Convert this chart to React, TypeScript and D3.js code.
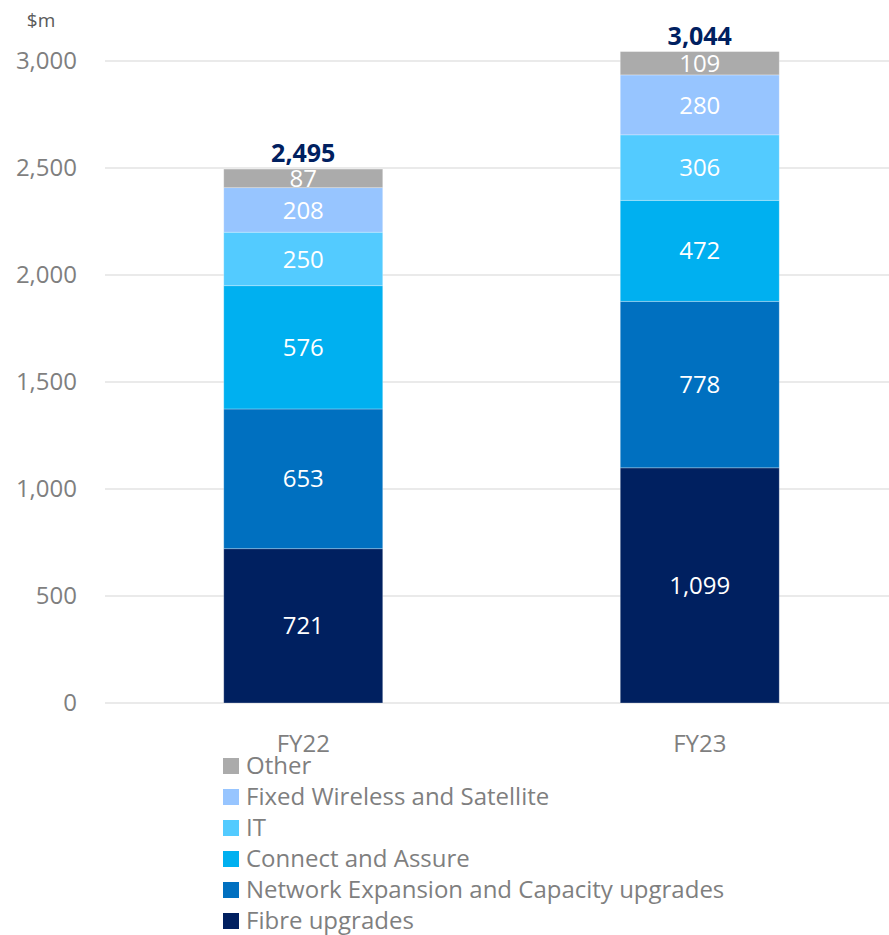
import * as d3 from "d3";

const years = ["FY22", "FY23"];
const seriesNames = [
  "Fibre upgrades",
  "Network Expansion and Capacity upgrades",
  "Connect and Assure",
  "IT",
  "Fixed Wireless and Satellite",
  "Other",
];
const fy22Values = [721, 653, 576, 250, 208, 87];
const fy23Values = [1099, 778, 472, 306, 280, 109];
const totals = [2495, 3044];
const yTicks = [0, 500, 1000, 1500, 2000, 2500, 3000];
const colors = ["#002060", "#0070C0", "#00B0F0", "#53CBFF", "#97C5FF", "#ABABAB"];

const font = "'Open Sans', 'Noto Sans', sans-serif";

export default function App() {
  const width = 889;
  const height = 935;

  const y = d3.scaleLinear().domain([0, 3000]).range([703, 61]);
  const x = d3.scalePoint<string>().domain(years).range([105, 898]).padding(0.5);
  const barW = 159;

  const rows = years.map((yr, i) => {
    const vals = i === 0 ? fy22Values : fy23Values;
    const obj: Record<string, any> = { year: yr };
    seriesNames.forEach((s, j) => (obj[s] = vals[j]));
    return obj;
  });
  const stacked = d3.stack<any>().keys(seriesNames)(rows);
  const fmt = d3.format(",");

  return (
    <svg
      width={width}
      height={height}
      style={{ position: "absolute", left: 0, top: 0, background: "#fff" }}
      fontFamily={font}
    >
      <text x={41} y={27} fontSize={19} fill="#595959" textAnchor="middle">
        $m
      </text>
      {yTicks.map((t) => (
        <g key={t}>
          <line x1={105} x2={889} y1={y(t)} y2={y(t)} stroke="#e3e3e3" strokeWidth={1.5} />
          <text
            x={77}
            y={y(t)}
            dy="0.35em"
            textAnchor="end"
            fontSize={24}
            fill="#7f7f7f"
          >
            {fmt(t)}
          </text>
        </g>
      ))}
      {stacked.map((layer, j) => (
        <g key={layer.key}>
          {layer.map((d, i) => {
            const cx = x(years[i])!;
            const y0 = y(d[0]);
            const y1 = y(d[1]);
            const v = d[1] - d[0];
            return (
              <g key={i}>
                <rect
                  x={cx - barW / 2}
                  y={y1}
                  width={barW}
                  height={y0 - y1}
                  fill={colors[j]}
                  stroke="#ffffff"
                  strokeOpacity={0.35}
                  strokeWidth={0.8}
                />
                <text
                  x={cx}
                  y={(y0 + y1) / 2}
                  dy="0.36em"
                  textAnchor="middle"
                  fontSize={24}
                  fill="#ffffff"
                >
                  {fmt(v)}
                </text>
              </g>
            );
          })}
        </g>
      ))}
      {years.map((yr, i) => (
        <g key={yr}>
          <text
            x={x(yr)!}
            y={y(totals[i]) - 7}
            textAnchor="middle"
            fontSize={25}
            fontWeight="bold"
            fill="#002060"
          >
            {fmt(totals[i])}
          </text>
          <text x={x(yr)!} y={744} dy="0.35em" textAnchor="middle" fontSize={24} fill="#7f7f7f">
            {yr}
          </text>
        </g>
      ))}
      {seriesNames
        .slice()
        .reverse()
        .map((s, k) => {
          const j = seriesNames.length - 1 - k;
          const cy = 766 + k * 31;
          return (
            <g key={s}>
              <rect x={223} y={cy - 8} width={16} height={16} fill={colors[j]} />
              <text x={246} y={cy} dy="0.35em" fontSize={24} fill="#7f7f7f">
                {s}
              </text>
            </g>
          );
        })}
    </svg>
  );
}
